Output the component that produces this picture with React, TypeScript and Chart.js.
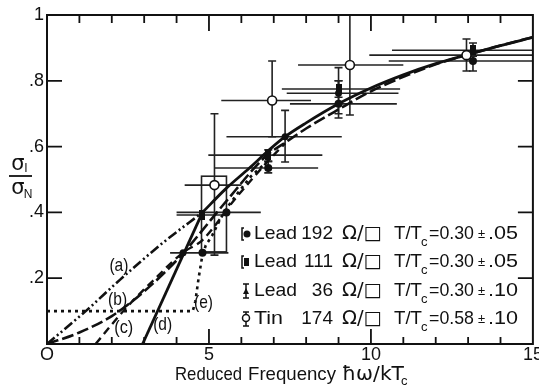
import React, { useEffect, useRef } from "react";
import { Chart, registerables } from "chart.js";
Chart.register(...registerables);

const INK = "#111";
const FONT = "'Liberation Sans', Arial, sans-serif";
const SYM = "'DejaVu Sans', sans-serif";

// ---------- axes ----------
const xTickValues = [0, 5, 10, 15];
const xTickLabels = ["O", "5", "10", "15"];
const xMinorTicks = [1, 2, 3, 4, 6, 7, 8, 9, 11, 12, 13, 14];
const xMajorTicks = [5, 10];
const yTickValues = [0.2, 0.4, 0.6, 0.8, 1];
const yTickLabels = [".2", ".4", ".6", ".8", "1"];

// ---------- theory curves ----------
const curveAX = [0, 1.23, 2.25, 3.57, 4.8];
const curveAY = [0, 0.103, 0.195, 0.307, 0.4];

const curveBX = [0, 1, 2, 3, 4.2, 4.55, 5.5, 6.77, 7.35, 8, 9, 10, 11, 12, 13, 14, 15];
const curveBY = [0, 0.035, 0.085, 0.16, 0.275, 0.316, 0.43, 0.572, 0.612, 0.655, 0.713, 0.768, 0.812, 0.85, 0.88, 0.907, 0.933];

const curveCX = [1.5, 2.4, 3.3, 4.2, 4.8, 5.8, 6.86, 7.35];
const curveCY = [0, 0.105, 0.195, 0.278, 0.316, 0.44, 0.56, 0.61];

const curveDX = [2.95, 4.8];
const curveDY = [0, 0.4];

const mainX = [4.8, 5.5, 6.25, 6.86, 7.35, 8, 9, 10, 11, 12, 13, 14, 15];
const mainY = [0.4, 0.47, 0.535, 0.59, 0.63, 0.672, 0.73, 0.778, 0.818, 0.852, 0.88, 0.907, 0.932];

const curveEX = [0, 4.5, 4.58, 4.68, 4.78, 4.9, 5.1, 5.35, 5.6, 5.9, 6.3, 6.86];
const curveEY = [0.1, 0.1, 0.13, 0.2, 0.26, 0.3, 0.33, 0.38, 0.42, 0.46, 0.51, 0.56];

const curveLabels = ["(a)", "(b)", "(c)", "(d)", "(e)"];
const curveLabelX = [2.22, 2.18, 2.37, 3.57, 4.83];
const curveLabelY = [0.237, 0.134, 0.049, 0.058, 0.125];

// ---------- measurements ----------
const lead192X = [4.8, 5.54, 6.83, 9.0, 13.15];
const lead192Y = [0.277, 0.4, 0.535, 0.73, 0.86];
const lead192XLo = [3.8, 4.0, 5.17, 7.5, 10.55];
const lead192XHi = [5.6, 6.6, 8.37, 10.8, 15];
const lead192YLo = [null, null, 0.52, 0.687, 0.83];
const lead192YHi = [null, null, 0.555, 0.8, 0.875];

const lead111X = [4.77, 6.83, 9.0, 13.15];
const lead111Y = [0.392, 0.574, 0.775, 0.893];
const lead111XLo = [4.0, 4.98, 7.25, 10.65];
const lead111XHi = [5.5, 8.5, 10.9, 15];
const lead111YLo = [null, 0.555, 0.75, 0.875];
const lead111YHi = [null, 0.59, 0.84, 0.915];

const lead36X = [4.2, 7.35, 9.0];
const lead36Y = [0.277, 0.63, 0.762];
const lead36XLo = [null, 5.54, 7.4];
const lead36XHi = [null, 9.1, 10.85];
const lead36YLo = [null, 0.553, 0.7];
const lead36YHi = [null, 0.71, 0.8];

const tinX = [5.17, 6.95, 9.35, 12.95];
const tinY = [0.483, 0.74, 0.848, 0.878];
const tinXLo = [4.25, 5.38, 7.75, 9.95];
const tinXHi = [6.0, 8.15, 11.0, 15];
const tinYLo = [0.27, 0.63, 0.696, 0.83];
const tinYHi = [0.7, 0.86, 1.0, 0.927];

// error box spanning the two low-frequency lead points
const boxX = [4.77, 5.54];
const boxY = [0.28, 0.51];

// ---------- legend ----------
const legendMetal = ["Lead", "Lead", "Lead", "Tin"];
const legendOhms = ["192", "111", "36", "174"];
const legendT = ["0.30", "0.30", "0.30", "0.58"];
const legendErr = [".05", ".05", ".10", ".10"];

const pts = (xs: number[], ys: number[]) => xs.map((x, i) => ({ x, y: ys[i] }));

function rectMarker() {
  const c = document.createElement("canvas");
  c.width = 6;
  c.height = 10;
  const g = c.getContext("2d")!;
  g.fillStyle = INK;
  g.fillRect(0, 0, 6, 10);
  return c;
}

function fitText(ctx: CanvasRenderingContext2D, text: string, x: number, y: number, font: string, width?: number, align: CanvasTextAlign = "left") {
  ctx.save();
  ctx.font = font;
  ctx.textAlign = align;
  const w = ctx.measureText(text).width;
  const s = width ? width / w : 1;
  ctx.translate(x, y);
  ctx.scale(s, 1);
  ctx.fillText(text, 0, 0);
  ctx.restore();
}

type ErrSet = { xs: number[]; ys: number[]; xlo: any[]; xhi: any[]; ylo: any[]; yhi: any[] };
const errSets: ErrSet[] = [
  { xs: lead192X, ys: lead192Y, xlo: lead192XLo, xhi: lead192XHi, ylo: lead192YLo, yhi: lead192YHi },
  { xs: lead111X, ys: lead111Y, xlo: lead111XLo, xhi: lead111XHi, ylo: lead111YLo, yhi: lead111YHi },
  { xs: lead36X, ys: lead36Y, xlo: lead36XLo, xhi: lead36XHi, ylo: lead36YLo, yhi: lead36YHi },
  { xs: tinX, ys: tinY, xlo: tinXLo, xhi: tinXHi, ylo: tinYLo, yhi: tinYHi },
];

const paperPlugin = {
  id: "paper",
  beforeDatasetsDraw(chart: any) {
    const { ctx, chartArea: a } = chart;
    const sx = chart.scales.x, sy = chart.scales.y;
    ctx.save();
    ctx.beginPath();
    ctx.rect(a.left, a.top, a.right - a.left, a.bottom - a.top);
    ctx.clip();
    ctx.strokeStyle = "#222";
    ctx.lineCap = "butt";
    for (const s of errSets) {
      s.xs.forEach((xv, i) => {
        const px = sx.getPixelForValue(xv);
        const py = sy.getPixelForValue(s.ys[i]);
        if (s.xlo[i] != null) {
          ctx.lineWidth = 1.6;
          ctx.beginPath();
          ctx.moveTo(sx.getPixelForValue(s.xlo[i]), py);
          ctx.lineTo(sx.getPixelForValue(s.xhi[i]), py);
          ctx.stroke();
        }
        if (s.ylo[i] != null) {
          const y1 = sy.getPixelForValue(s.ylo[i]);
          const y2 = sy.getPixelForValue(s.yhi[i]);
          ctx.lineWidth = 1.6;
          ctx.beginPath();
          ctx.moveTo(px, y1);
          ctx.lineTo(px, y2);
          ctx.moveTo(px - 4, y1);
          ctx.lineTo(px + 4, y1);
          ctx.moveTo(px - 4, y2);
          ctx.lineTo(px + 4, y2);
          ctx.stroke();
        }
      });
    }
    const bx1 = sx.getPixelForValue(boxX[0]), bx2 = sx.getPixelForValue(boxX[1]);
    const by1 = sy.getPixelForValue(boxY[0]), by2 = sy.getPixelForValue(boxY[1]);
    ctx.lineWidth = 1.6;
    ctx.strokeRect(bx1, by2, bx2 - bx1, by1 - by2);
    ctx.restore();
  },
  afterDraw(chart: any) {
    const { ctx, chartArea: a } = chart;
    const sx = chart.scales.x, sy = chart.scales.y;
    ctx.save();
    ctx.strokeStyle = INK;
    ctx.fillStyle = INK;
    ctx.lineWidth = 2;
    ctx.strokeRect(a.left, a.top, a.right - a.left, a.bottom - a.top);
    ctx.lineWidth = 1.8;
    ctx.beginPath();
    for (const t of xMinorTicks) {
      const p = sx.getPixelForValue(t);
      ctx.moveTo(p, a.bottom);
      ctx.lineTo(p, a.bottom - 7);
      ctx.moveTo(p, a.top);
      ctx.lineTo(p, a.top + 8);
    }
    for (const t of xMajorTicks) {
      const p = sx.getPixelForValue(t);
      ctx.moveTo(p, a.bottom);
      ctx.lineTo(p, a.bottom - 15);
      ctx.moveTo(p, a.top);
      ctx.lineTo(p, a.top + 16);
    }
    for (const t of yTickValues) {
      if (t >= 1) continue;
      const p = sy.getPixelForValue(t);
      ctx.moveTo(a.left, p);
      ctx.lineTo(a.left + 15, p);
      ctx.moveTo(a.right, p);
      ctx.lineTo(a.right - 15, p);
    }
    ctx.stroke();
    // tick labels
    ctx.textBaseline = "middle";
    xTickValues.forEach((v, i) => {
      fitText(ctx, xTickLabels[i], sx.getPixelForValue(v), a.bottom + 11, `18px ${FONT}`, undefined, "center");
    });
    yTickValues.forEach((v, i) => {
      fitText(ctx, yTickLabels[i], a.left - 3, sy.getPixelForValue(v), `18px ${FONT}`, undefined, "right");
    });
    // x title
    ctx.textBaseline = "alphabetic";
    fitText(ctx, "Reduced", 175, 380, `19px ${FONT}`, 67);
    fitText(ctx, "Frequency", 248, 380, `19px ${FONT}`, 88);
    fitText(ctx, "ħω/kT", 342, 380, `19px ${SYM}`, 62);
    fitText(ctx, "c", 401, 385, `13px ${FONT}`);
    // y title
    ctx.textAlign = "center";
    ctx.font = `21px ${SYM}`;
    ctx.fillText("σ", 18, 170);
    ctx.fillText("σ", 18, 194);
    ctx.font = `12px ${FONT}`;
    ctx.fillText("I", 26, 172);
    ctx.fillText("N", 28, 198);
    ctx.lineWidth = 1.8;
    ctx.beginPath();
    ctx.moveTo(9, 176);
    ctx.lineTo(32, 176);
    ctx.stroke();
    // curve labels
    ctx.textBaseline = "middle";
    curveLabels.forEach((t, i) => {
      fitText(ctx, t, sx.getPixelForValue(curveLabelX[i]), sy.getPixelForValue(curveLabelY[i]), `19px ${FONT}`, 19, "center");
    });
    // legend
    const rowY = [234, 262, 291, 319];
    rowY.forEach((y, i) => {
      ctx.textBaseline = "middle";
      fitText(ctx, legendMetal[i], 254, y, `19px ${FONT}`, i === 3 ? 29 : 43);
      fitText(ctx, legendOhms[i], 333, y, `19px ${FONT}`, undefined, "right");
      fitText(ctx, "Ω/□", 342, y, `19px ${SYM}`, 40);
      fitText(ctx, "T/T", 394, y, `19px ${FONT}`, 28);
      fitText(ctx, "c", 421, y + 8, `13px ${FONT}`);
      fitText(ctx, "=" + legendT[i], 429, y, `19px ${FONT}`, 45);
      fitText(ctx, "±", 478, y, `13px ${FONT}`);
      fitText(ctx, legendErr[i], 488, y, `19px ${FONT}`, 30);
      // symbols
      const cx = 246;
      ctx.lineWidth = 1.5;
      ctx.beginPath();
      if (i < 2) {
        ctx.moveTo(cx - 2, y - 6);
        ctx.lineTo(cx - 4, y - 6);
        ctx.lineTo(cx - 4, y + 6);
        ctx.lineTo(cx - 2, y + 6);
      } else {
        ctx.moveTo(cx, y - 7);
        ctx.lineTo(cx, y + 7);
        ctx.moveTo(cx - 3, y - 7);
        ctx.lineTo(cx + 3, y - 7);
        ctx.moveTo(cx - 3, y + 7);
        ctx.lineTo(cx + 3, y + 7);
      }
      ctx.stroke();
      if (i === 0) {
        ctx.beginPath();
        ctx.arc(cx + 1, y, 3.5, 0, Math.PI * 2);
        ctx.fill();
      } else if (i === 1) {
        ctx.fillRect(cx - 2, y - 4, 5, 8);
      } else if (i === 2) {
        ctx.beginPath();
        ctx.moveTo(cx, y - 3);
        ctx.lineTo(cx + 3, y + 3);
        ctx.lineTo(cx - 3, y + 3);
        ctx.closePath();
        ctx.fill();
      } else {
        ctx.fillStyle = "#fff";
        ctx.beginPath();
        ctx.arc(cx, y - 1, 3.5, 0, Math.PI * 2);
        ctx.fill();
        ctx.stroke();
        ctx.fillStyle = INK;
      }
    });
    ctx.restore();
  },
};

export default function App() {
  const ref = useRef<HTMLCanvasElement>(null);
  useEffect(() => {
    const lineDs = (label: string, xs: number[], ys: number[], dash: number[], w: number, smooth: boolean) => ({
      type: "line" as const,
      label,
      data: pts(xs, ys),
      borderColor: INK,
      borderWidth: w,
      borderDash: dash,
      pointRadius: 0,
      fill: false,
      tension: 0,
      cubicInterpolationMode: smooth ? ("monotone" as const) : ("default" as const),
      showLine: true,
    });
    const chart = new Chart(ref.current!, {
      type: "scatter",
      data: {
        datasets: [
          { label: "Tin", data: pts(tinX, tinY), pointRadius: 4.5, pointBorderWidth: 1.6, pointBorderColor: INK, pointBackgroundColor: "#fff", showLine: false } as any,
          { label: "Lead 111", data: pts(lead111X, lead111Y), pointStyle: rectMarker(), pointRadius: 5, showLine: false } as any,
          { label: "Lead 192", data: pts(lead192X, lead192Y), pointRadius: 4, pointBorderWidth: 0, pointBackgroundColor: INK, pointBorderColor: INK, showLine: false } as any,
          { label: "Lead 36", data: pts(lead36X, lead36Y), pointStyle: "circle", pointRadius: 3.5, pointBorderWidth: 0, pointBackgroundColor: INK, showLine: false } as any,
          lineDs("d", curveDX, curveDY, [], 2.8, false),
          lineDs("main", mainX, mainY, [], 2.8, true),
          lineDs("a", curveAX, curveAY, [10, 3, 2, 3, 2, 3], 2.6, true),
          lineDs("b", curveBX, curveBY, [12, 4], 2.6, true),
          lineDs("c", curveCX, curveCY, [8, 5], 2.4, true),
          lineDs("e", curveEX, curveEY, [3, 4], 2.6, false),
        ],
      },
      options: {
        responsive: false,
        animation: false,
        layout: { padding: { left: 47, right: 6, top: 15, bottom: 41 } },
        plugins: { legend: { display: false }, tooltip: { enabled: false } },
        scales: {
          x: { type: "linear", min: 0, max: 15, display: false },
          y: { type: "linear", min: 0, max: 1, display: false },
        },
      },
      plugins: [paperPlugin],
    } as any);
    return () => chart.destroy();
  }, []);
  return (
    <div style={{ position: "fixed", left: 0, top: 0, width: 539, height: 385, background: "#fff" }}>
      <canvas ref={ref} width={539} height={385} style={{ display: "block", width: 539, height: 385 }} />
    </div>
  );
}
